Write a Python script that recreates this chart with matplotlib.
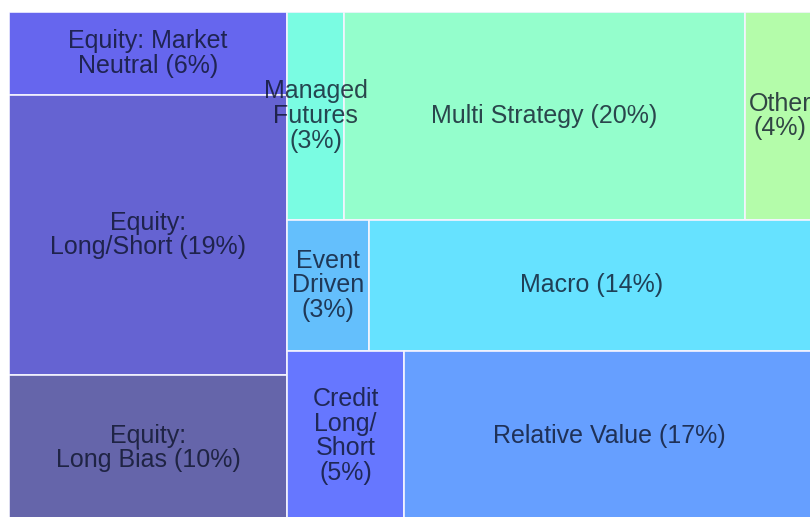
import matplotlib
matplotlib.use('Agg')
import matplotlib.pyplot as plt
from matplotlib.patches import Rectangle

# hedge fund strategy weights (% of allocation), read off the tile areas
# a trailing newline puts the percentage on its own line
names = ['Equity: Market\nNeutral', 'Equity:\nLong/Short', 'Equity:\nLong Bias',
         'Managed\nFutures\n', 'Multi Strategy', 'Other\n',
         'Event\nDriven\n', 'Macro',
         'Credit\nLong/\nShort\n', 'Relative Value']
values = [5.62, 18.97, 9.89,
          2.89, 20.33, 3.55,
          2.62, 14.24,
          4.85, 17.03]
colors = ['#6666ee', '#6563d2', '#6565aa',
          '#7afce2', '#94fecc', '#b4fcaa',
          '#64bffc', '#66e2ff',
          '#6677ff', '#669fff']

# first strip is the left column, the others are rows on the right
strips = [[0, 1, 2], [3, 4, 5], [6, 7], [8, 9]]

plt.rcParams['font.family'] = ['Liberation Sans', 'DejaVu Sans']

fig = plt.figure(figsize=(8.1, 5.17), dpi=100)
ax = fig.add_axes([9 / 810, -4 / 517, 806 / 810, 509 / 517])
ax.set_xlim(0, 1)
ax.set_ylim(1, 0)
ax.axis('off')

total = sum(values)


def draw_tile(i, x, y, w, h):
    ax.add_patch(Rectangle((x, y), w, h, facecolor=colors[i],
                           edgecolor='#f4f4ff', linewidth=1.2))
    pct = round(values[i])
    label = names[i]
    if label.endswith('\n'):
        label = label + '(%d%%)' % pct
    else:
        label = label + ' (%d%%)' % pct
    # semi-transparent dark text picks up a tint of the tile colour
    ax.text(x + w / 2, y + h / 2, label, ha='center', va='center',
            multialignment='center', fontsize=18, color='#0c1228',
            alpha=0.78, linespacing=1.05, clip_on=False)


# left column
col = strips[0]
col_sum = sum(values[i] for i in col)
col_w = col_sum / total
y = 0
for i in col:
    h = values[i] / col_sum
    draw_tile(i, 0, y, col_w, h)
    y += h

# rows on the right
rest = total - col_sum
y = 0
for row in strips[1:]:
    row_sum = sum(values[i] for i in row)
    h = row_sum / rest
    x = col_w
    for i in row:
        w = values[i] / row_sum * (1 - col_w)
        draw_tile(i, x, y, w, h)
        x += w
    y += h

fig.savefig('out.png', dpi=100)
